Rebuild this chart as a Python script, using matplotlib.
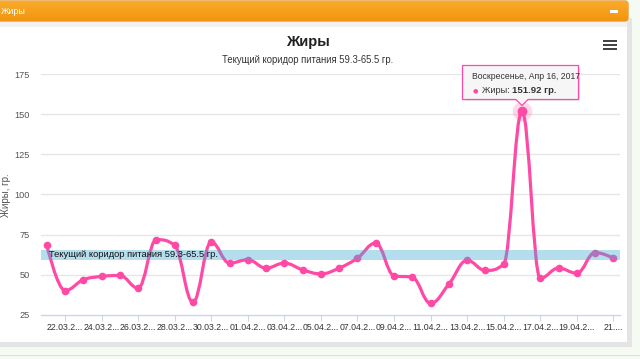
import numpy as np
import matplotlib
matplotlib.use("Agg")
import matplotlib.pyplot as plt
from matplotlib.path import Path
from matplotlib.patches import PathPatch, Rectangle, FancyBboxPatch, Polygon

plt.rcParams['font.family'] = ['Liberation Sans', 'DejaVu Sans']

# ---------------- data ----------------
dates = ["21.03.2017", "22.03.2017", "23.03.2017", "24.03.2017", "25.03.2017", "26.03.2017",
         "27.03.2017", "28.03.2017", "29.03.2017", "30.03.2017", "31.03.2017", "01.04.2017",
         "02.04.2017", "03.04.2017", "04.04.2017", "05.04.2017", "06.04.2017", "07.04.2017",
         "08.04.2017", "09.04.2017", "10.04.2017", "11.04.2017", "12.04.2017", "13.04.2017",
         "14.04.2017", "15.04.2017", "16.04.2017", "17.04.2017", "18.04.2017", "19.04.2017",
         "20.04.2017", "21.04.2017"]
fat = [68.7, 40.2, 46.9, 49.0, 49.6, 41.7, 71.9, 68.3, 32.9, 70.4, 57.3, 59.4,
       54.2, 57.3, 53.1, 50.6, 54.2, 60.4, 69.8, 49.4, 48.5, 32.3, 44.2, 59.0,
       52.7, 56.7, 151.92, 47.9, 54.2, 51.0, 63.9, 60.4]
band_low, band_high = 59.3, 65.5
yticks = [25, 50, 75, 100, 125, 150, 175]
title = "Жиры"
subtitle = "Текущий коридор питания 59.3-65.5 гр."
band_label = "Текущий коридор питания 59.3-65.5 гр."
ylabel = "Жиры, гр."
tooltip_date = "Воскресенье, Апр 16, 2017"
tooltip_idx = 26

LINE = '#ff4aa5'
W, H = 640, 359

fig = plt.figure(figsize=(6.4, 3.59), dpi=100)
fig.patch.set_facecolor('#f5faf2')

# ---------- background decorations (pixel coords) ----------
bg = fig.add_axes([0, 0, 1, 1])
bg.set_xlim(0, W); bg.set_ylim(H, 0); bg.axis('off'); bg.set_zorder(0)
bg.add_patch(Rectangle((-5, 18), 637, 329, color='#e4e4e4', lw=0))
bg.add_patch(Rectangle((-5, 18), 632, 324, color='white', lw=0))
bg.add_patch(Rectangle((-5, 20), 632, 7, color='#f2f2f2', lw=0))
bg.add_patch(Rectangle((-5, 354.5), 645, 1.5, color='#dedede', lw=0))
hdr = FancyBboxPatch((-12, 1), 640, 20, boxstyle="round,pad=0,rounding_size=3",
                     fc='none', ec='#e8850a', lw=0.8)
bg.add_patch(hdr)
grad = np.linspace(0, 1, 50)[:, None]
c1 = np.array(matplotlib.colors.to_rgb('#f9ab2a'))
c2 = np.array(matplotlib.colors.to_rgb('#f29510'))
img = c1[None, None, :] * (1 - grad[..., None]) + c2[None, None, :] * grad[..., None]
img = np.repeat(img, 2, axis=1)
im = bg.imshow(img, extent=(-12, 628, 21, 1), aspect='auto', zorder=1)
im.set_clip_path(hdr)
bg.text(0.5, 11, "Жиры", color='white', fontsize=6.5, va='center', ha='left', zorder=3)
bg.add_patch(Rectangle((610, 10), 8, 2.5, color='white', lw=0, zorder=3))
for yy in (41, 45, 49):
    bg.add_patch(Rectangle((603, yy - 1), 14, 2.2, color='#444444', lw=0, zorder=3))
bg.text(308, 42, title, fontsize=10.5, fontweight='bold', ha='center', va='center', color='#222222')
bg.text(308, 60, subtitle, fontsize=6.85, ha='center', va='center', color='#333333')
bg.text(6.5, 195, ylabel, fontsize=7, rotation=90, ha='center', va='center', color='#555555')

# ---------- plot ----------
x0, x1, ytop, ybot = 41, 619.5, 74, 315
ax = fig.add_axes([x0 / W, 1 - ybot / H, (x1 - x0) / W, (ybot - ytop) / H])
ax.set_zorder(2)
ax.patch.set_alpha(0)
xs = np.arange(len(fat), dtype=float)
step = 18.28
ax.set_xlim((x0 - 46.7) / step, (x1 - 46.7) / step)
ax.set_ylim(25, 175)
for s in ['top', 'right', 'left']:
    ax.spines[s].set_visible(False)
ax.spines['bottom'].set_color('#ccd6eb')
ax.spines['bottom'].set_linewidth(1)
for v in yticks[1:]:
    ax.axhline(v, color='#e6e6e6', lw=1, zorder=0)
ax.set_yticks(yticks)
ax.tick_params(axis='y', length=0, pad=8, labelsize=6.6, labelcolor='#555555')
tpos = list(range(1, len(dates), 2))
tlabels = [dates[i][:7] + "..." for i in tpos]
tlabels[-1] = dates[tpos[-1]][:3] + "..."
ax.set_xticks(tpos)
ax.set_xticklabels(tlabels)
ax.tick_params(axis='x', length=4.5, color='#ccd6eb', pad=1.5, labelsize=6.3, labelcolor='#333333')

# Highcharts-like spline
def spline_path(px, py, s=1.5):
    n = len(px); d = s + 1
    lc = [None] * n; rc = [None] * n
    for i in range(1, n - 1):
        lx, ly, cx, cy, nx, ny = px[i-1], py[i-1], px[i], py[i], px[i+1], py[i+1]
        lcx = (s * cx + lx) / d; lcy = (s * cy + ly) / d
        rcx = (s * cx + nx) / d; rcy = (s * cy + ny) / d
        if rcx != lcx:
            corr = ((rcy - lcy) * (rcx - cx)) / (rcx - lcx) + cy - rcy
            lcy += corr; rcy += corr
        if lcy > ly and lcy > cy:
            lcy = max(ly, cy); rcy = 2 * cy - lcy
        elif lcy < ly and lcy < cy:
            lcy = min(ly, cy); rcy = 2 * cy - lcy
        if rcy > ny and rcy > cy:
            rcy = max(ny, cy); lcy = 2 * cy - rcy
        elif rcy < ny and rcy < cy:
            rcy = min(ny, cy); lcy = 2 * cy - rcy
        lc[i] = (lcx, lcy); rc[i] = (rcx, rcy)
    verts = [(px[0], py[0])]; codes = [Path.MOVETO]
    for i in range(1, n):
        a = rc[i-1] if rc[i-1] else (px[i-1], py[i-1])
        b = lc[i] if lc[i] else (px[i], py[i])
        verts += [a, b, (px[i], py[i])]
        codes += [Path.CURVE4] * 3
    return Path(verts, codes)

ax.add_patch(PathPatch(spline_path(xs, fat), fc='none', ec=LINE, lw=2.3, zorder=2,
                       capstyle='round', joinstyle='round'))
ax.plot(xs, fat, 'o', color=LINE, ms=5.5, mew=0, zorder=2.5)
ax.plot([xs[tooltip_idx]], [fat[tooltip_idx]], 'o', color=LINE, ms=14, alpha=0.22, mew=0, zorder=2.4)
ax.plot([xs[tooltip_idx]], [fat[tooltip_idx]], 'o', color=LINE, ms=7, mew=0, zorder=2.6)

ax.axhspan(band_low, band_high, color=(68/255, 170/255, 213/255, 0.4), lw=0, zorder=3)
ax.text((49 - 46.7) / step, (band_low + band_high) / 2, band_label, fontsize=6.75,
        va='center', ha='left', color='#111111', zorder=4)

# ---------- tooltip (foreground pixel axes) ----------
fg = fig.add_axes([0, 0, 1, 1])
fg.set_xlim(0, W); fg.set_ylim(H, 0); fg.axis('off'); fg.set_zorder(5)
fg.patch.set_alpha(0)
px_peak = 46.7 + tooltip_idx * step
shadow = FancyBboxPatch((464, 67), 116, 34, boxstyle="round,pad=0,rounding_size=3",
                        fc=(0, 0, 0, 0.08), ec='none')
fg.add_patch(shadow)
tip = Polygon([(462.5, 65.5), (578.5, 65.5), (578.5, 99.5), (px_peak + 6, 99.5),
               (px_peak, 105.5), (px_peak - 6, 99.5), (462.5, 99.5)], closed=True,
              fc=(0.97, 0.97, 0.97, 0.95), ec=LINE, lw=0.9, joinstyle='round')
fg.add_patch(tip)
fg.text(472.5, 76.7, tooltip_date, fontsize=6.2, va='center', ha='left', color='#333333')
fg.text(475.5, 90.7, "●", fontsize=4.5, va='center', ha='center', color=LINE,
        family=['DejaVu Sans'])
fg.text(481.5, 90.7, "Жиры: ", fontsize=6.6, va='center', ha='left', color='#333333')
fg.text(511.5, 90.7, f"{fat[tooltip_idx]:.2f} гр.", fontsize=6.8, fontweight='bold',
        va='center', ha='left', color='#333333')

fig.savefig("out.png", dpi=100, facecolor=fig.get_facecolor())
